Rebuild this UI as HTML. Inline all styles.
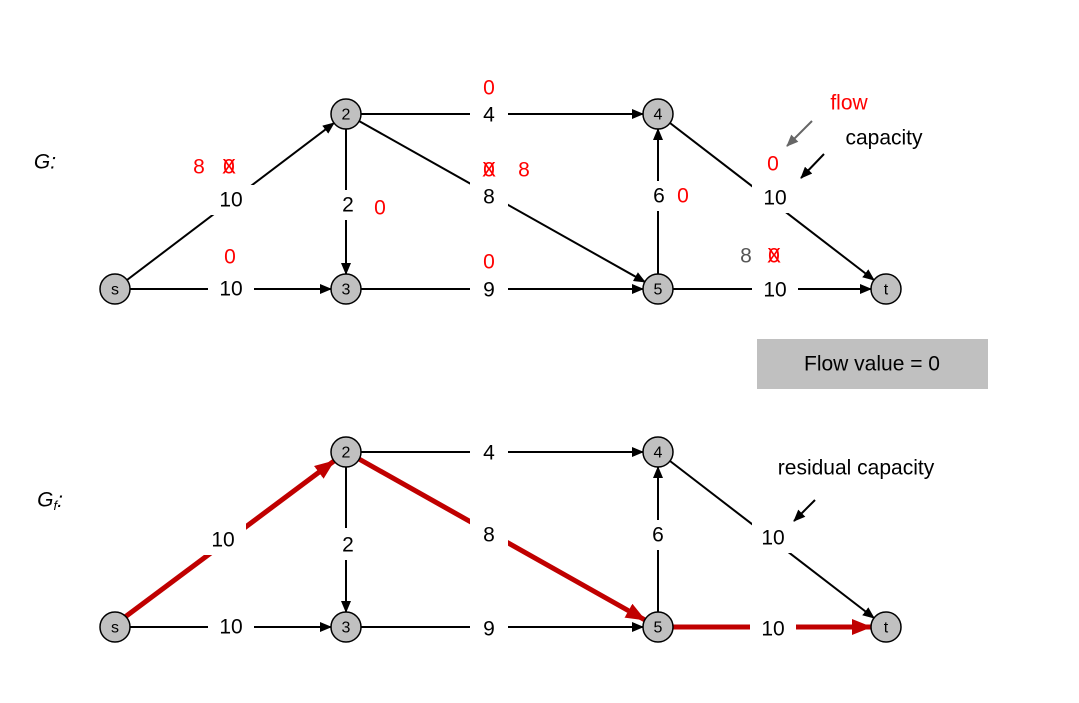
<!DOCTYPE html>
<html><head><meta charset="utf-8"><style>
html,body{margin:0;padding:0;background:#fff;}
svg{display:block;font-family:"Liberation Sans",sans-serif;}
.l{font-size:21px;fill:#000;text-anchor:middle;dominant-baseline:central;}
.r{font-size:21px;fill:#f00;text-anchor:middle;dominant-baseline:central;}
.n{font-size:16px;fill:#000;text-anchor:middle;dominant-baseline:central;}
</style></head><body>
<svg width="1079" height="703" viewBox="0 0 1079 703">
<defs>
<marker id="a" markerUnits="userSpaceOnUse" markerWidth="12" markerHeight="10" refX="11" refY="5" orient="auto"><path d="M0,0 L12,5 L0,10 z" fill="#000"/></marker>
<marker id="ar" markerUnits="userSpaceOnUse" markerWidth="20" markerHeight="16" refX="19" refY="8" orient="auto"><path d="M0,0 L20,8 L0,16 z" fill="#c00000"/></marker>
<marker id="ag" markerUnits="userSpaceOnUse" markerWidth="12" markerHeight="10" refX="11" refY="5" orient="auto"><path d="M0,0 L12,5 L0,10 z" fill="#666"/></marker>
</defs>

<!-- TOP GRAPH -->
<g stroke="#000" stroke-width="2" fill="none">
<line x1="127" y1="280" x2="334" y2="123" marker-end="url(#a)"/>
<line x1="130" y1="289" x2="331" y2="289" marker-end="url(#a)"/>
<line x1="346" y1="129" x2="346" y2="274" marker-end="url(#a)"/>
<line x1="361" y1="114" x2="643" y2="114" marker-end="url(#a)"/>
<line x1="359" y1="121" x2="645" y2="282" marker-end="url(#a)"/>
<line x1="361" y1="289" x2="643" y2="289" marker-end="url(#a)"/>
<line x1="658" y1="274" x2="658" y2="129" marker-end="url(#a)"/>
<line x1="670" y1="123" x2="874" y2="280" marker-end="url(#a)"/>
<line x1="673" y1="289" x2="871" y2="289" marker-end="url(#a)"/>
</g>
<g fill="#fff">
<rect x="208" y="185" width="46" height="30"/>
<rect x="208" y="275" width="46" height="28"/>
<rect x="335" y="190" width="24" height="30"/>
<rect x="470" y="100" width="38" height="28"/>
<rect x="470" y="182" width="38" height="30"/>
<rect x="470" y="276" width="38" height="28"/>
<rect x="646" y="181" width="24" height="30"/>
<rect x="752" y="183" width="46" height="30"/>
<rect x="752" y="276" width="46" height="28"/>
</g>
<g class="l">
<text x="231" y="200" class="l">10</text>
<text x="231" y="289" class="l">10</text>
<text x="348" y="205" class="l">2</text>
<text x="489" y="115" class="l">4</text>
<text x="489" y="197" class="l">8</text>
<text x="489" y="290" class="l">9</text>
<text x="659" y="196" class="l">6</text>
<text x="775" y="198" class="l">10</text>
<text x="775" y="290" class="l">10</text>
</g>
<!-- flows -->
<text x="489" y="88" class="r">0</text>
<text x="199" y="167" class="r">8</text>
<text x="229" y="167" class="r">0</text><text x="229" y="167" class="r">X</text>
<text x="489" y="170" class="r">0</text><text x="489" y="170" class="r">X</text>
<text x="524" y="170" class="r">8</text>
<text x="380" y="208" class="r">0</text>
<text x="230" y="257" class="r">0</text>
<text x="489" y="262" class="r">0</text>
<text x="683" y="196" class="r">0</text>
<text x="773" y="164" class="r">0</text>
<text x="746" y="256" class="l" style="fill:#555">8</text>
<text x="774" y="256" class="r">0</text><text x="774" y="256" class="r">X</text>
<text x="849" y="103" class="r">flow</text>
<text x="884" y="138" class="l">capacity</text>
<line x1="812" y1="121" x2="787" y2="146" stroke="#666" stroke-width="2" marker-end="url(#ag)"/>
<line x1="824" y1="154" x2="801" y2="178" stroke="#000" stroke-width="2" marker-end="url(#a)"/>
<text x="45" y="162" class="l" style="font-style:italic">G:</text>

<g fill="#c0c0c0" stroke="#000" stroke-width="1.5">
<circle cx="115" cy="289" r="15"/><circle cx="346" cy="114" r="15"/><circle cx="346" cy="289" r="15"/>
<circle cx="658" cy="114" r="15"/><circle cx="658" cy="289" r="15"/><circle cx="886" cy="289" r="15"/>
</g>
<text x="115" y="290" class="n">s</text><text x="346" y="115" class="n">2</text><text x="346" y="290" class="n">3</text>
<text x="658" y="115" class="n">4</text><text x="658" y="290" class="n">5</text><text x="886" y="290" class="n">t</text>

<rect x="757" y="339" width="231" height="50" fill="#c0c0c0"/>
<text x="872" y="364" class="l">Flow value = 0</text>

<!-- BOTTOM GRAPH -->
<g stroke="#000" stroke-width="2" fill="none">
<line x1="130" y1="627" x2="331" y2="627" marker-end="url(#a)"/>
<line x1="346" y1="467" x2="346" y2="612" marker-end="url(#a)"/>
<line x1="361" y1="452" x2="643" y2="452" marker-end="url(#a)"/>
<line x1="361" y1="627" x2="643" y2="627" marker-end="url(#a)"/>
<line x1="658" y1="612" x2="658" y2="467" marker-end="url(#a)"/>
<line x1="670" y1="461" x2="874" y2="618" marker-end="url(#a)"/>
</g>
<g stroke="#c00000" stroke-width="5" fill="none">
<line x1="125" y1="617" x2="334" y2="461" marker-end="url(#ar)"/>
<line x1="359" y1="459" x2="645" y2="620" marker-end="url(#ar)"/>
<line x1="673" y1="627" x2="871" y2="627" marker-end="url(#ar)"/>
</g>
<g fill="#fff">
<rect x="200" y="523" width="46" height="32"/>
<rect x="208" y="613" width="46" height="28"/>
<rect x="335" y="528" width="24" height="32"/>
<rect x="470" y="438" width="38" height="28"/>
<rect x="470" y="518" width="38" height="34"/>
<rect x="470" y="613" width="38" height="28"/>
<rect x="646" y="520" width="24" height="30"/>
<rect x="752" y="521" width="46" height="32"/>
<rect x="750" y="613" width="46" height="30"/>
</g>
<text x="223" y="540" class="l">10</text>
<text x="231" y="627" class="l">10</text>
<text x="348" y="545" class="l">2</text>
<text x="489" y="453" class="l">4</text>
<text x="489" y="535" class="l">8</text>
<text x="489" y="629" class="l">9</text>
<text x="658" y="535" class="l">6</text>
<text x="773" y="538" class="l">10</text>
<text x="773" y="629" class="l">10</text>
<text x="856" y="468" class="l">residual capacity</text>
<line x1="815" y1="500" x2="794" y2="521" stroke="#000" stroke-width="2" marker-end="url(#a)"/>
<text x="50" y="500" class="l" style="font-style:italic">G<tspan font-size="13" dy="5">f</tspan><tspan dy="-5">:</tspan></text>

<g fill="#c0c0c0" stroke="#000" stroke-width="1.5">
<circle cx="115" cy="627" r="15"/><circle cx="346" cy="452" r="15"/><circle cx="346" cy="627" r="15"/>
<circle cx="658" cy="452" r="15"/><circle cx="658" cy="627" r="15"/><circle cx="886" cy="627" r="15"/>
</g>
<text x="115" y="628" class="n">s</text><text x="346" y="453" class="n">2</text><text x="346" y="628" class="n">3</text>
<text x="658" y="453" class="n">4</text><text x="658" y="628" class="n">5</text><text x="886" y="628" class="n">t</text>
</svg>
</body></html>
